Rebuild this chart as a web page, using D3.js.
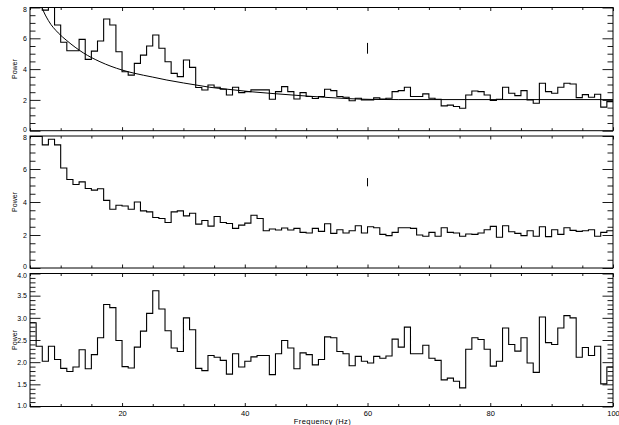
<!DOCTYPE html>
<html>
<head>
<meta charset="utf-8">
<script src="https://cdn.jsdelivr.net/npm/d3@7"></script>
<style>
  body { margin: 0; background: #fff; }
  svg { display: block; }
  text { font-family: "Liberation Sans", Arial, sans-serif; fill: #000; }
</style>
</head>
<body>
<svg id="chart" width="619" height="425"></svg>
<script>
// frequency bins (Hz), 1 Hz wide, left edges
var binStart = d3.range(5, 100);

// power spectrum (top panel)
var powerTop = [
  9.6, 8.6, 7.83, 8.5, 6.86, 5.74, 5.19, 5.19, 5.93, 4.63, 5.17, 5.82, 7.25, 6.86, 5.13,
  3.83, 3.61, 4.37, 4.91, 5.5, 6.21, 5.35, 4.48, 3.72, 3.51, 4.59, 4.11, 2.81, 2.64, 2.97,
  2.82, 2.69, 2.32, 2.82, 2.47, 2.54, 2.65, 2.65, 2.65, 2.04, 2.54, 2.86, 2.54, 2.06, 2.47,
  2.22, 2.09, 2.22, 2.69, 2.6, 2.22, 2.17, 1.94, 2.11, 2.0, 2.0, 2.13, 2.06, 2.11, 2.54,
  2.6, 2.82,
  2.22, 2.22, 2.39, 2.11, 2.04, 1.61, 1.66, 1.57, 1.46, 2.32, 2.58, 2.54, 2.32, 1.96, 2.04,
  2.82, 2.43, 2.28, 2.6, 2.0, 1.78, 3.08, 2.54, 2.43, 2.82, 3.08, 3.03, 2.15, 2.34, 2.17,
  2.37, 1.53, 1.89
];

// fitted model: [Hz, power]
var modelFreq  = [5, 6, 7, 8, 9.6, 11, 13.7, 16.4, 20, 22, 25, 27.3, 30, 32, 34.3, 37, 41, 45, 49, 53, 57, 61, 65, 100];
var modelPower = [10.8, 9.2, 7.95, 7.15, 6.35, 5.85, 5.05, 4.48, 3.94, 3.73, 3.48, 3.29, 3.1, 2.97, 2.82, 2.7, 2.53, 2.4, 2.28, 2.17, 2.08, 2.03, 2.02, 2.02];

// second spectrum (middle panel)
var powerMid = [
  7.98, 7.98, 7.46, 7.8, 7.46, 6.06, 5.36, 5.06, 5.22, 4.82, 4.72, 4.8, 4.1, 3.56, 3.8,
  3.76, 3.56, 4.0, 3.46, 3.4, 3.06, 3.0, 2.76, 3.4, 3.46, 3.16, 3.32, 2.66, 2.88, 2.54,
  3.12, 2.76, 2.7, 2.4, 2.6, 2.72, 3.2, 3.0, 2.26, 2.36, 2.3, 2.42, 2.3, 2.4, 2.16,
  2.12, 2.4, 2.22, 2.68, 2.1, 2.32, 2.12, 2.26, 2.56, 2.12, 2.5, 2.44, 2.04, 1.96, 2.16,
  2.44, 2.44,
  2.4, 2.0, 1.92, 2.16, 1.92, 2.44, 2.16, 2.12, 1.92, 2.06, 2.04, 2.12, 2.32, 2.52, 1.86,
  2.56, 2.2, 2.1, 1.96, 2.26, 1.92, 2.5, 1.9, 2.32, 2.04, 2.44, 2.28, 2.22, 2.26, 2.32,
  1.92, 2.16, 2.26
];

// normalised spectrum (bottom panel)
var powerBot = [
  2.89, 2.36, 2.02, 2.36, 2.06, 1.86, 1.79, 1.89, 2.28, 1.85, 2.17, 2.55, 3.3, 3.23, 2.49,
  1.9, 1.87, 2.34, 2.7, 3.1, 3.61, 3.2, 2.71, 2.32, 2.24, 3.0, 2.73, 1.86, 1.81, 2.15,
  2.11, 2.04, 1.73, 2.19, 1.89, 2.02, 2.12, 2.15, 2.15, 1.72, 2.19, 2.49, 2.32, 1.85, 2.21,
  2.17, 1.94, 2.06, 2.57, 2.55, 2.24, 2.19, 1.92, 2.13, 2.02, 1.98, 2.13, 2.09, 2.14, 2.52,
  2.34, 2.79,
  2.19, 2.19, 2.38, 2.09, 2.04, 1.6, 1.64, 1.57, 1.42, 2.29, 2.55, 2.51, 2.29, 1.91, 2.02,
  2.77, 2.4, 2.25, 2.55, 1.98, 1.77, 3.02, 2.44, 2.4, 2.77, 3.05, 3.0, 2.11, 2.33, 2.15,
  2.36, 1.51, 1.89
];

// small vertical markers at 60 Hz: [freq, low, high]
var markerTop = [60, 5.0, 5.7];
var markerMid = [60, 4.95, 5.45];

var xTicksMajor = [20, 40, 60, 80, 100];
var xTicksMinor = [5, 10, 15, 25, 30, 35, 45, 50, 55, 65, 70, 75, 85, 90, 95];
var yTicksMajorA = [0, 2, 4, 6, 8];
var yTicksMinorA = [0.5, 1, 1.5, 2.5, 3, 3.5, 4.5, 5, 5.5, 6.5, 7, 7.5];
var yTicksMajorB = [1.0, 1.5, 2.0, 2.5, 3.0, 3.5, 4.0];
var yTicksMinorB = [1.1, 1.2, 1.3, 1.4, 1.6, 1.7, 1.8, 1.9, 2.1, 2.2, 2.3, 2.4, 2.6, 2.7, 2.8, 2.9,
                    3.1, 3.2, 3.3, 3.4, 3.6, 3.7, 3.8, 3.9];

var svg = d3.select("#chart");
var left = 30, right = 613;
var x = d3.scaleLinear().domain([5, 100]).range([left, right]);

var panels = [
  {id: "a", top: 7.5, bottom: 130.7, domain: [0, 8], data: powerTop, major: yTicksMajorA, minor: yTicksMinorA, fmt: d3.format("d"), marker: markerTop, model: true},
  {id: "b", top: 136, bottom: 268, domain: [0, 8], data: powerMid, major: yTicksMajorA, minor: yTicksMinorA, fmt: d3.format("d"), marker: markerMid},
  {id: "c", top: 273.5, bottom: 406.5, domain: [1, 4], data: powerBot, major: yTicksMajorB, minor: yTicksMinorB, fmt: d3.format(".1f"), xlabels: true}
];

function noDomain(g) {
  g.select(".domain").remove();
  g.selectAll("line").attr("stroke", "#000").attr("stroke-width", 0.9);
  g.attr("font-family", null).attr("font-size", null);
}

panels.forEach(function(p) {
  var y = d3.scaleLinear().domain(p.domain).range([p.bottom, p.top]);
  var g = svg.append("g");

  g.append("clipPath").attr("id", "clip-" + p.id)
    .append("rect")
    .attr("x", left).attr("y", p.top)
    .attr("width", right - left).attr("height", p.bottom - p.top);

  var plot = g.append("g").attr("clip-path", "url(#clip-" + p.id + ")");

  // histogram steps
  var pts = binStart.map(function(f, i) { return [f, p.data[i]]; });
  pts.push([100, p.data[p.data.length - 1]]);
  var step = d3.line()
    .x(function(d) { return x(d[0]); })
    .y(function(d) { return y(d[1]); })
    .curve(d3.curveStepAfter);
  plot.append("path").datum(pts)
    .attr("d", step)
    .attr("fill", "none").attr("stroke", "#000").attr("stroke-width", 1.1);

  if (p.model) {
    var mpts = modelFreq.map(function(f, i) { return [f, modelPower[i]]; });
    var smooth = d3.line()
      .x(function(d) { return x(d[0]); })
      .y(function(d) { return y(d[1]); })
      .curve(d3.curveMonotoneX);
    plot.append("path").datum(mpts)
      .attr("d", smooth)
      .attr("fill", "none").attr("stroke", "#000").attr("stroke-width", 1);
  }

  if (p.marker) {
    plot.append("line")
      .attr("x1", x(p.marker[0])).attr("x2", x(p.marker[0]))
      .attr("y1", y(p.marker[1])).attr("y2", y(p.marker[2]))
      .attr("stroke", "#000").attr("stroke-width", 1);
  }

  // frame
  g.append("rect")
    .attr("x", left).attr("y", p.top)
    .attr("width", right - left).attr("height", p.bottom - p.top)
    .attr("fill", "none").attr("stroke", "#000").attr("stroke-width", 1);

  // y ticks, inward on both sides; end labels nudged inside the frame
  g.append("g").attr("transform", "translate(" + left + ",0)")
    .call(d3.axisLeft(y).tickValues(p.major).tickSize(-10.5).tickPadding(3).tickFormat(p.fmt))
    .call(noDomain)
    .selectAll("text")
    .attr("font-size", 7)
    .attr("dy", function(d) {
      if (d === p.domain[1]) return "0.55em";
      if (d === p.domain[0]) return "0.1em";
      return "0.32em";
    });
  g.append("g").attr("transform", "translate(" + left + ",0)")
    .call(d3.axisLeft(y).tickValues(p.minor).tickSize(-5.5).tickFormat(""))
    .call(noDomain);
  g.append("g").attr("transform", "translate(" + right + ",0)")
    .call(d3.axisRight(y).tickValues(p.major).tickSize(-10.5).tickFormat(""))
    .call(noDomain);
  g.append("g").attr("transform", "translate(" + right + ",0)")
    .call(d3.axisRight(y).tickValues(p.minor).tickSize(-5.5).tickFormat(""))
    .call(noDomain);

  // x ticks, inward top and bottom
  g.append("g").attr("transform", "translate(0," + p.top + ")")
    .call(d3.axisTop(x).tickValues(xTicksMajor).tickSize(-3.5).tickFormat(""))
    .call(noDomain);
  g.append("g").attr("transform", "translate(0," + p.top + ")")
    .call(d3.axisTop(x).tickValues(xTicksMinor).tickSize(-2.5).tickFormat(""))
    .call(noDomain);
  g.append("g").attr("transform", "translate(0," + p.bottom + ")")
    .call(d3.axisBottom(x).tickValues(xTicksMajor).tickSize(-3.5).tickPadding(4)
      .tickFormat(p.xlabels ? d3.format("d") : ""))
    .call(noDomain)
    .selectAll("text").attr("font-size", 7.5);
  g.append("g").attr("transform", "translate(0," + p.bottom + ")")
    .call(d3.axisBottom(x).tickValues(xTicksMinor).tickSize(-2.5).tickFormat(""))
    .call(noDomain);

  // y title
  g.append("text")
    .attr("transform", "translate(16.5," + ((p.top + p.bottom) / 2) + ") rotate(-90)")
    .attr("text-anchor", "middle")
    .attr("font-size", 7)
    .text("Power");
});

svg.append("text")
  .attr("x", (left + right) / 2 + 1).attr("y", 424)
  .attr("text-anchor", "middle")
  .attr("font-size", 7.5)
  .attr("letter-spacing", 0.4)
  .text("Frequency (Hz)");
</script>
</body>
</html>
